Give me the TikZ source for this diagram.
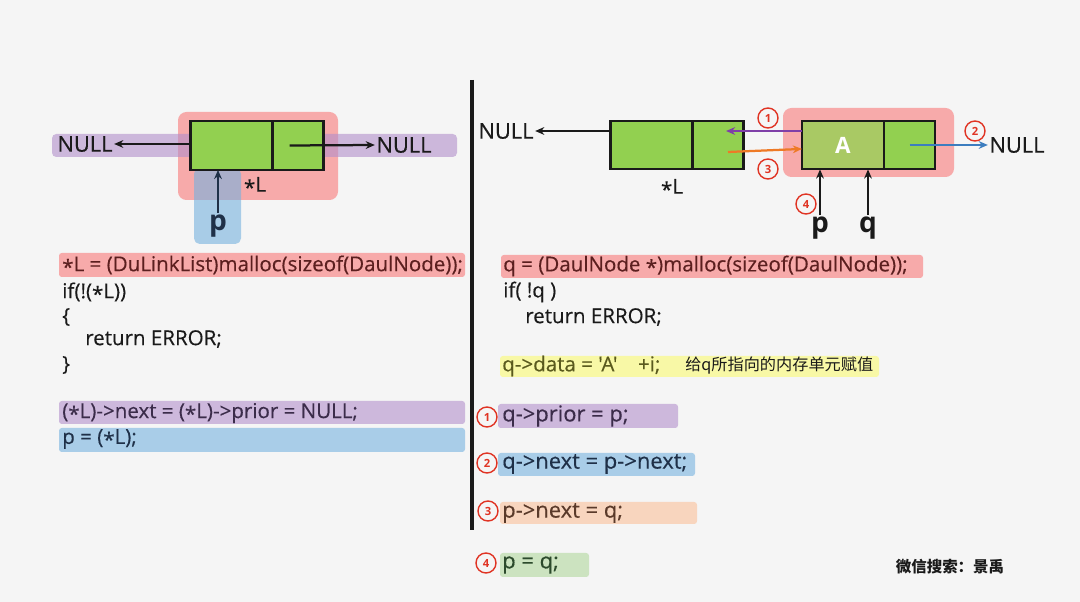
\documentclass[tikz,border=0pt]{standalone}
\usepackage{fontspec}
\setmainfont{Open Sans}
\newfontfamily\medfont{Open Sans}[FakeBold=0.35]
\newfontfamily\cjk{Noto Sans CJK SC}
\usetikzlibrary{positioning,arrows.meta}

\definecolor{bg}{HTML}{F5F5F5}
\definecolor{cellgreen}{HTML}{92D050}
\definecolor{cellolive}{HTML}{A9C964}
\definecolor{bandred}{HTML}{F7AAAA}
\definecolor{bandpurple}{HTML}{CDB8DC}
\definecolor{bandblue}{HTML}{A9CDE8}
\definecolor{bandyellow}{HTML}{F8F8A6}
\definecolor{bandorange}{HTML}{F8D5BE}
\definecolor{bandgreen}{HTML}{CCE3C0}
\definecolor{overpurple}{HTML}{B28FCB}
\definecolor{overblue}{HTML}{76B2DF}
\definecolor{stepred}{HTML}{E03424}
\definecolor{priorpurple}{HTML}{7F3FA8}
\definecolor{nextorange}{HTML}{EE7A26}
\definecolor{nextblue}{HTML}{3C7DBF}
\definecolor{txtred}{HTML}{5B1F1F}
\definecolor{txtpurple}{HTML}{3B2C4A}
\definecolor{txtblue}{HTML}{1F3048}
\definecolor{txtyellow}{HTML}{5A5A1E}
\definecolor{txtorange}{HTML}{5A3A2A}
\definecolor{txtgreen}{HTML}{2C4A2C}
\definecolor{ink}{HTML}{1A1A1A}

\newcommand\pstar{\raisebox{-.3ex}{*}}
\newcommand\codefont{\medfont\fontsize{14.6}{17}\selectfont}
\newcommand\stepfont{\medfont\fontsize{15.6}{18}\selectfont}

\tikzset{
  cell/.style={draw=ink, line width=1.5pt, outer sep=0pt, minimum height=1.22cm, inner sep=0pt},
  datacell/.style={cell, fill=cellgreen, minimum width=2.05cm},
  nextcell/.style={cell, fill=cellgreen, minimum width=1.275cm},
  ptr/.style={-{Stealth[length=6.5pt,width=5.5pt]}, line width=1.6pt, ink},
  code/.style={anchor=west, inner sep=0pt, text=ink, font=\codefont},
  stepcode/.style={code, font=\stepfont},
  nulltext/.style={inner sep=1pt, text=ink, font=\medfont\fontsize{15.5}{17}\selectfont},
  ptrname/.style={inner sep=1pt, text=ink, font=\fontsize{20}{22}\selectfont\bfseries},
  stepno/.style={circle, draw=stepred, line width=1pt, text=stepred, minimum size=0.5cm,
    inner sep=0pt, font=\fontsize{8}{8}\selectfont\bfseries},
}

\begin{document}
\begin{tikzpicture}[x=0.025cm, y=-0.025cm]
\fill[bg] (0,0) rectangle (1080,602);
\useasboundingbox (0,0) rectangle (1080,602);

% head node of the empty list
\fill[bandred, rounded corners=6pt] (178,112) rectangle (338,200);
\fill[overpurple, opacity=0.6, rounded corners=3pt] (52,134) rectangle (457,157);
\fill[overblue, opacity=0.6, rounded corners=4pt] (194,168) rectangle (241,244);
\node[datacell] (L1d) at (231.5,145.5) {};
\node[nextcell, right=0pt of L1d] (L1n) {};
\node[nulltext] (nullA) at (85,144) {NULL};
\node[nulltext] (nullB) at (404,145) {NULL};
\node[inner sep=1pt, text=ink, font=\codefont] (Lstar) at (255,186) {\pstar L};
\node[ptrname, text=txtblue] (pA) at (218,226) {p};
\draw[ptr] (L1d.west |- nullA.east) -- (nullA.east);
\draw[ptr] ([xshift=-6pt]L1n.center) -- (nullB.west);
\draw[ptr, txtblue] (pA.north) -- (pA.north |- L1d.south);

% code on the left
\fill[bandred, rounded corners=2pt] (59,253) rectangle (465,277);
\fill[bandpurple, rounded corners=2pt] (59,401) rectangle (465,424);
\fill[bandblue, rounded corners=2pt] (59,428) rectangle (465,452);
\node[code, text=txtred] (cl1) at (62,265) {\pstar L = (DuLinkList)malloc(sizeof(DaulNode));};
\node[code] (cl2) at (62,292) {if(!(\pstar L))};
\node[code] (cl3) at (62,317) {\{};
\node[code] (cl4) at (85,339) {return ERROR;};
\node[code] (cl5) at (62,365) {\}};
\node[code, text=txtpurple] (cl6) at (62,413) {(\pstar L)->next = (\pstar L)->prior = NULL;};
\node[code, text=txtblue] (cl7) at (62,439) {p = (\pstar L);};

% divider
\coordinate (divTop) at (472,80);
\coordinate (divBot) at (472,530);
\draw[line width=2.2pt, ink] (divTop) -- (divBot);

% inserting the new node q
\fill[bandred, rounded corners=6pt] (783,108) rectangle (954,177);
\node[datacell] (R1d) at (651.5,145) {};
\node[nextcell, right=0pt of R1d] (R1n) {};
\node[datacell, fill=cellolive, text=white, font=\fontsize{16}{18}\selectfont\bfseries] (R2d) at (843,145) {A};
\node[nextcell, right=0pt of R2d] (R2n) {};
\node[nulltext] (nullC) at (506,131) {NULL};
\node[nulltext] (nullD) at (1017,145) {NULL};
\node[inner sep=1pt, text=ink, font=\codefont] (Rstar) at (672,188) {\pstar L};
\node[ptrname] (pB) at (820,228) {p};
\node[ptrname] (qB) at (868,228) {q};
\coordinate (priorEnd) at (726,131);
\coordinate (nextStart) at (728,152);
\draw[ptr] (R1d.west |- nullC.east) -- (nullC.east);
\draw[ptr, priorpurple] (R2d.west |- priorEnd) -- (priorEnd);
\draw[ptr, nextorange] (nextStart) -- ([yshift=-2.8pt]R2d.west);
\draw[ptr, nextblue] (R2n.center) -- (nullD.west);
\draw[ptr] (pB.north) -- (pB.north |- R2d.south);
\draw[ptr] (qB.north) -- (qB.north |- R2d.south);
\node[stepno] (s1) at (768,118) {1};
\node[stepno] (s2) at (975,131) {2};
\node[stepno] (s3) at (768,169) {3};
\node[stepno] (s4) at (806,204) {4};

% code on the right
\fill[bandred, rounded corners=2pt] (501,255) rectangle (923,278);
\fill[bandyellow, rounded corners=2pt] (500,356) rectangle (879,377);
\fill[bandpurple, rounded corners=2pt] (498,404) rectangle (678,428);
\fill[bandblue, rounded corners=2pt] (498,453) rectangle (695,476);
\fill[bandorange, rounded corners=2pt] (500,502) rectangle (697,524);
\fill[bandgreen, rounded corners=2pt] (500,553) rectangle (589,577);
\node[code, text=txtred] (cr1) at (503,266) {q = (DaulNode \pstar)malloc(sizeof(DaulNode));};
\node[code] (cr2) at (503,292) {if( !q )};
\node[code] (cr3) at (525,317) {return ERROR;};
\node[code, text=txtyellow] (cr4) at (502,366) {q->data = 'A'\quad +i;};
\node[anchor=west, inner sep=0pt, text=ink, font=\cjk\fontsize{11.5}{13}\selectfont] (note) at (685,366) {给q所指向的内存单元赋值};
\node[stepcode, text=txtpurple] (cr5) at (502,416) {q->prior = p;};
\node[stepcode, text=txtblue] (cr6) at (502,464) {q->next = p->next;};
\node[stepcode, text=txtorange] (cr7) at (502,513) {p->next = q;};
\node[stepcode, text=txtgreen] (cr8) at (502,565) {p = q;};
\node[stepno] (n1) at (487,417) {1};
\node[stepno] (n2) at (487,463) {2};
\node[stepno] (n3) at (488,511) {3};
\node[stepno] (n4) at (486,563) {4};

\node[text=ink, font=\cjk\bfseries\fontsize{11}{13}\selectfont] (mark) at (950,567) {微信搜索：景禹};
\end{tikzpicture}
\end{document}
